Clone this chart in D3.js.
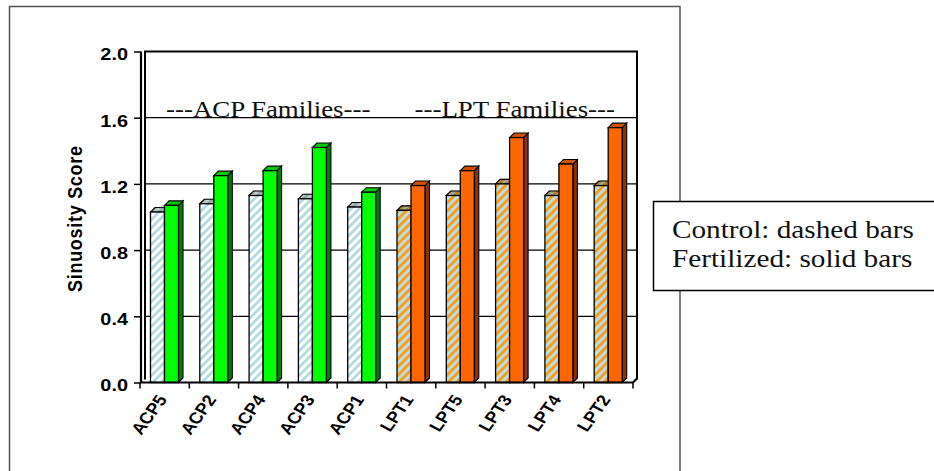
<!DOCTYPE html>
<html>
<head>
<meta charset="utf-8">
<script src="https://cdn.jsdelivr.net/npm/d3@7"></script>
<style>
  html, body { margin: 0; padding: 0; background: #fff; }
  svg { display: block; }
</style>
</head>
<body>
<svg id="chart" width="934" height="471"></svg>
<script>
// Sinuosity scores per family, control vs fertilized
const categories = ["ACP5", "ACP2", "ACP4", "ACP3", "ACP1", "LPT1", "LPT5", "LPT3", "LPT4", "LPT2"];
const controlValues = [1.03, 1.08, 1.13, 1.11, 1.06, 1.04, 1.13, 1.20, 1.13, 1.19];
const fertilizedValues = [1.07, 1.25, 1.28, 1.42, 1.15, 1.19, 1.28, 1.48, 1.32, 1.54];
const yTicks = [0, 0.4, 0.8, 1.2, 1.6, 2.0];
const familyNames = ["ACP", "LPT"];
const familyLabels = ["---ACP Families---", "---LPT Families---"];
const legendLines = ["Control: dashed bars", "Fertilized: solid bars"];
const yTitle = "Sinuosity Score";

const SX = 1.17;          // horizontal text stretch
const DEPTH = 4.5;        // 3D bar depth

const svg = d3.select("#chart");
const defs = svg.append("defs");

// striped fills for the control bars
function stripes(id, bg, fg) {
  const p = defs.append("pattern")
    .attr("id", id)
    .attr("patternUnits", "userSpaceOnUse")
    .attr("width", 5.8).attr("height", 5.8)
    .attr("patternTransform", "rotate(45)");
  p.append("rect").attr("width", 5.8).attr("height", 5.8).attr("fill", bg);
  p.append("rect").attr("width", 2.8).attr("height", 5.8).attr("fill", fg);
}
stripes("ctrlACP", "#ffffff", "#b3d9e3");
stripes("ctrlLPT", "#b7e0e6", "#ff9a10");

const familyStyle = {
  ACP: { ctrl: "url(#ctrlACP)", front: "#00ff00", top: "#00c800", side: "#008000" },
  LPT: { ctrl: "url(#ctrlLPT)", front: "#ff6600", top: "#cc5200", side: "#8a3300" }
};

// outer frame
svg.append("rect")
  .attr("x", 9.5).attr("y", 6.5).attr("width", 670.5).attr("height", 480)
  .attr("fill", "none").attr("stroke", "#555").attr("stroke-width", 1.5);

const x = d3.scaleBand().domain(categories).range([140, 633]).padding(0);
const y = d3.scaleLinear().domain([0, 2]).range([382.5, 51.5]);

const wallL = 145, wallR = 637, axisX = 141, floorY = y(0);

// back wall gridlines
svg.append("g").selectAll("line")
  .data(yTicks.filter(d => d > 0))
  .join("line")
  .attr("x1", wallL).attr("x2", wallR)
  .attr("y1", d => y(d)).attr("y2", d => y(d))
  .attr("stroke", "#000").attr("stroke-width", 1.2);

// back wall outline
svg.append("path")
  .attr("d", `M${wallL},${floorY - 3}V${y(2)}H${wallR}V${floorY - 3}`)
  .attr("fill", "none").attr("stroke", "#000").attr("stroke-width", 2);

// family captions
const groupCenters = familyNames.map(f => {
  const cats = categories.filter(c => c.startsWith(f));
  return (x(cats[0]) + x(cats[cats.length - 1]) + x.bandwidth()) / 2;
});
svg.append("g").selectAll("text")
  .data(familyLabels)
  .join("text")
  .attr("transform", (d, i) => `translate(${groupCenters[i] + 5},${y(1.6) - 1}) scale(${SX},1)`)
  .attr("text-anchor", "middle")
  .attr("font-family", "'Liberation Serif', 'Times New Roman', serif")
  .attr("font-size", 23)
  .attr("fill", "#111")
  .text(d => d);

// 3D bars
const barW = 14, barOff = 10.5;
const rows = categories.map((c, i) => ({
  cat: c,
  fam: familyNames.find(f => c.startsWith(f)),
  ctrl: controlValues[i],
  fert: fertilizedValues[i]
}));

function bar3d(g, x0, v, front, top, side, shade) {
  const x1 = x0 + barW, yt = y(v), d = DEPTH;
  const sidePath = `M${x1},${yt}L${x1 + d},${yt - d}L${x1 + d},${floorY - d}L${x1},${floorY}Z`;
  const topPath = `M${x0},${yt}L${x0 + d},${yt - d}L${x1 + d},${yt - d}L${x1},${yt}Z`;
  g.append("path").attr("d", sidePath)
    .attr("fill", side).attr("stroke", "#000").attr("stroke-width", 1.1);
  if (shade) g.append("path").attr("d", sidePath)
    .attr("fill", "#000").attr("opacity", 0.45);
  g.append("path").attr("d", topPath)
    .attr("fill", top).attr("stroke", "#000").attr("stroke-width", 1.1);
  if (shade) g.append("path").attr("d", topPath)
    .attr("fill", "#000").attr("opacity", 0.22).attr("stroke", "#000").attr("stroke-width", 1.1);
  g.append("rect")
    .attr("x", x0).attr("y", yt).attr("width", barW).attr("height", floorY - yt)
    .attr("fill", front).attr("stroke", "#000").attr("stroke-width", 1.3);
}

const bars = svg.append("g");
rows.forEach(r => {
  const st = familyStyle[r.fam];
  const g = bars.append("g");
  const x0 = x(r.cat) + barOff;
  bar3d(g, x0, r.ctrl, st.ctrl, st.ctrl, st.ctrl, true);
  bar3d(g, x0 + barW, r.fert, st.front, st.top, st.side, false);
});

// floor edge and category ticks at band boundaries
svg.append("path")
  .attr("d", `M${axisX},${floorY}H${x.range()[1]}L${wallR},${floorY - 4}`)
  .attr("fill", "none").attr("stroke", "#000").attr("stroke-width", 2.2);
svg.append("g").selectAll("line")
  .data(d3.range(categories.length + 1))
  .join("line")
  .attr("x1", i => x.range()[0] + i * x.step())
  .attr("x2", i => x.range()[0] + i * x.step())
  .attr("y1", floorY).attr("y2", floorY + 6)
  .attr("stroke", "#000").attr("stroke-width", 1.5);

// category labels
const xAxis = svg.append("g")
  .attr("transform", `translate(0,${floorY})`)
  .call(d3.axisBottom(x).tickSize(0).tickPadding(0));
xAxis.select(".domain").remove();
xAxis.selectAll("text")
  .attr("x", 0).attr("y", 0).attr("dy", null)
  .attr("text-anchor", "end")
  .attr("transform", `translate(3,17) scale(${SX},1) rotate(-58)`)
  .attr("font-family", "'Liberation Sans', Arial, sans-serif")
  .attr("font-weight", "bold")
  .attr("font-size", 16)
  .attr("fill", "#000");

// value axis
const yAxis = svg.append("g")
  .attr("transform", `translate(${axisX},0)`)
  .call(d3.axisLeft(y).tickValues(yTicks).tickFormat(d3.format(".1f")).tickSize(7).tickPadding(0));
yAxis.select(".domain")
  .attr("d", `M0,${y(2)}V${floorY}`)
  .attr("stroke", "#000").attr("stroke-width", 2.2);
yAxis.selectAll(".tick line").attr("stroke", "#000").attr("stroke-width", 1.5);
yAxis.selectAll("text")
  .attr("x", 0).attr("dy", null)
  .attr("text-anchor", "end")
  .attr("transform", `translate(-13,8.3) scale(${SX},1)`)
  .attr("font-family", "'Liberation Sans', Arial, sans-serif")
  .attr("font-weight", "bold")
  .attr("font-size", 17)
  .attr("fill", "#000");

// value axis title
svg.append("text")
  .attr("transform", `translate(81.5,219) scale(${SX},1) rotate(-90)`)
  .attr("text-anchor", "middle")
  .attr("font-family", "'Liberation Sans', Arial, sans-serif")
  .attr("font-weight", "bold")
  .attr("font-size", 18)
  .attr("textLength", 146)
  .attr("fill", "#000")
  .text(yTitle);

// legend note
const legend = svg.append("g");
legend.append("rect")
  .attr("x", 653.5).attr("y", 201.5).attr("width", 300).attr("height", 89)
  .attr("fill", "#fff").attr("stroke", "#000").attr("stroke-width", 1.5);
legend.selectAll("text")
  .data(legendLines)
  .join("text")
  .attr("transform", (d, i) => `translate(672,${238 + i * 29}) scale(${SX},1)`)
  .attr("font-family", "'Liberation Serif', 'Times New Roman', serif")
  .attr("font-size", 25)
  .attr("fill", "#111")
  .text(d => d);
</script>
</body>
</html>
